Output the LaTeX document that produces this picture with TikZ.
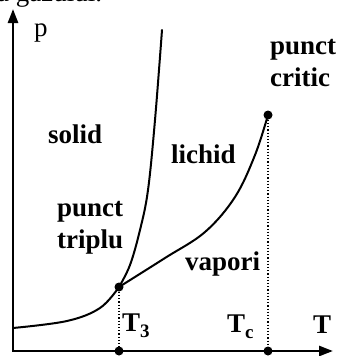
\documentclass[tikz,border=0pt]{standalone}
\usepackage{fontspec}
\setmainfont{Liberation Serif}
\usetikzlibrary{arrows.meta}

\begin{document}
\begin{tikzpicture}[
  x=1pt,y=-1pt,
  lbl/.style={font=\fontsize{27}{32}\selectfont\bfseries,inner sep=0pt,anchor=base west,align=left},
  plain/.style={font=\fontsize{27}{32}\selectfont,inner sep=0pt,anchor=base west},
  axis/.style={line width=2.6pt,{Triangle[length=14pt,width=10pt]}-{Triangle[length=14pt,width=10pt]}},
  curve/.style={line width=2pt,line cap=round},
  guide/.style={line width=1.3pt,dash pattern=on 1.3pt off 1.9pt},
  dot/.style={circle,fill,inner sep=0pt,minimum size=9pt}
]
\useasboundingbox (0,0) rectangle (339,356);
% text cut off above the figure
\node[plain] (head) at (-3,1.5) {a gazului.};
% axes
\coordinate (ytip) at (13,9);
\coordinate (xtip) at (333,351);
\draw[axis] (ytip) |- (xtip);
\node[plain] (plab) at (34,36) {p};
\node[lbl] (Tlab) at (313,333) {T};
% special points
\node[dot] (TP) at (119,287) {};
\node[dot] (CP) at (268,115) {};
\node[dot] (T3) at (119,351) {};
\node[dot] (Tc) at (268,351) {};
\draw[guide] (TP) -- (T3); \draw[guide] (CP) -- (Tc);
% phase boundaries
\draw[curve] plot[smooth,tension=0.6] coordinates {(13,328) (67,321) (100,308) (TP.center)};
\draw[curve] plot[smooth,tension=0.6] coordinates {(TP.center) (130,265) (140,230) (148,190) (155,120) (162,30)};
\draw[curve] plot[smooth,tension=0.6] coordinates {(TP.center) (165,258) (205,232) (235,197) (255,155) (CP.center)};
% labels
\node[lbl] (solid) at (48,143) {solid};
\node[lbl] (lichid) at (171,163) {lichid};
\node[lbl] (vapori) at (185,270) {vapori};
\node[lbl] (triplu) at (57,248) {punct\\triplu};
\node[lbl] (critic) at (270,86) {punct\\critic};
\node[lbl] (T3lab) at (122,331) {T\raisebox{-6pt}{\fontsize{19}{19}\selectfont 3}};
\node[lbl] (Tclab) at (227,332) {T\raisebox{-6pt}{\fontsize{19}{19}\selectfont c}};
\end{tikzpicture}
\end{document}
